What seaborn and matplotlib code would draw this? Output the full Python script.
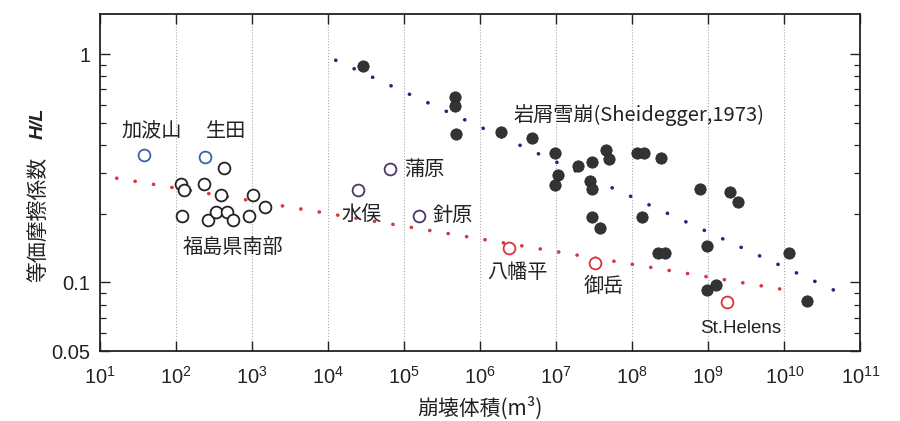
import numpy as np
import pandas as pd
import matplotlib
matplotlib.use('Agg')
import matplotlib.pyplot as plt
import seaborn as sns
from matplotlib.ticker import LogLocator, FixedLocator, FixedFormatter, NullFormatter

# Rock avalanches (Scheidegger, 1973) - filled dots
rock_vol = [2.85e4, 4.69e5, 4.69e5, 4.83e5, 1.89e6, 4.79e6, 9.7e6, 1.05e7, 9.7e6,
            1.92e7, 2.94e7, 2.8e7, 2.94e7, 2.94e7, 3.79e7, 4.55e7, 4.88e7,
            1.15e8, 1.41e8, 2.38e8, 1.34e8, 2.15e8, 2.72e8, 7.7e8, 1.95e9, 2.43e9,
            9.6e8, 9.6e8, 1.26e9, 1.16e10, 1.99e10]
rock_hl = [0.889, 0.648, 0.590, 0.446, 0.457, 0.427, 0.367, 0.295, 0.266,
           0.325, 0.338, 0.277, 0.256, 0.193, 0.173, 0.379, 0.347,
           0.369, 0.369, 0.349, 0.193, 0.134, 0.134, 0.257, 0.248, 0.226,
           0.144, 0.0923, 0.0977, 0.135, 0.0826]

# Southern Fukushima - black open circles
fuku_vol = [116, 128, 236, 428, 391, 1040, 1483, 121, 261, 332, 464, 567, 922]
fuku_hl = [0.271, 0.253, 0.270, 0.317, 0.242, 0.242, 0.214, 0.195, 0.187, 0.204, 0.204, 0.187, 0.195]

# blue open circles
blue_vol = [38, 238]
blue_hl = [0.361, 0.354]

# purple open circles
purple_vol = [6.54e4, 2.5e4, 1.57e5]
purple_hl = [0.315, 0.253, 0.195]

# red open circles (volcanic)
red_vol = [2.41e6, 3.26e7, 1.74e9]
red_hl = [0.142, 0.122, 0.082]

# trend lines (end points)
blue_line_x = [1.26e4, 4.8e10]
blue_line_y = [0.94, 0.0915]
red_line_x = [16.6, 9.4e9]
red_line_y = [0.286, 0.0932]

# labels
label_text = ['加波山', '生田', '福島県南部', '蒲原', '水俣', '針原', '八幡平', '御岳']
label_x = [48.3, 455, 562, 1.0e5, 2.8e4, 4.4e5, 3.07e6, 4.28e7]
label_y = [0.457, 0.457, 0.142, 0.311, 0.198, 0.196, 0.111, 0.0957]
label_ha = ['center', 'center', 'center', 'left', 'center', 'center', 'center', 'center']

xtick_vals = [10.0 ** k for k in range(1, 12)]
ytick_vals = [0.05, 0.1, 1]
ytick_labels = ['0.05', '0.1', '1']

sns.set_style('ticks')
plt.rcParams['font.family'] = ['Noto Sans CJK JP', 'DejaVu Sans']
plt.rcParams['mathtext.fontset'] = 'custom'
plt.rcParams['mathtext.rm'] = 'Liberation Sans'

fig = plt.figure(figsize=(9, 4.21), dpi=100)
ax = fig.add_axes([0.111, 0.166, 0.845, 0.801])
ax.set_xscale('log')
ax.set_yscale('log')

# trend lines as sparse dots
sns.lineplot(x=red_line_x, y=red_line_y, ax=ax, color='#d9363e', linewidth=2.6,
             linestyle=(0, (0.05, 5.12)), dash_capstyle='round', zorder=1)
sns.lineplot(x=blue_line_x, y=blue_line_y, ax=ax, color='#1c2a78', linewidth=2.6,
             linestyle=(0, (0.05, 5.57)), dash_capstyle='round', zorder=1)

rock = pd.DataFrame({'vol': rock_vol, 'hl': rock_hl})
sns.scatterplot(data=rock, x='vol', y='hl', ax=ax, s=66, color='#333333',
                edgecolor='#2a2a2a', linewidth=0.6, zorder=3)

groups = [(fuku_vol, fuku_hl, '#222222'), (blue_vol, blue_hl, '#3a62a8'),
          (purple_vol, purple_hl, '#4e3566'), (red_vol, red_hl, '#d8343a')]
for gx, gy, col in groups:
    sns.scatterplot(x=gx, y=gy, ax=ax, s=72, facecolor='white', edgecolor=col,
                    linewidth=1.3, zorder=3)

for t, lx, ly, ha in zip(label_text, label_x, label_y, label_ha):
    ax.text(lx, ly, t, ha=ha, va='center', fontsize=14.5, color='#222222')
ax.text(1.22e8, 0.542, '岩屑雪崩(Sheidegger,1973)', ha='center', va='center',
        fontsize=14.5, color='#222222')
ax.text(2.64e9, 0.0627, 'St.Helens', ha='center', va='center', fontsize=13.5,
        color='#222222', family='Liberation Sans')

ax.set_xlim(10, 1e11)
ax.set_ylim(0.05, 1.5)

ax.xaxis.set_major_locator(FixedLocator(xtick_vals))
ax.xaxis.set_minor_locator(FixedLocator([]))
ax.yaxis.set_major_locator(FixedLocator(ytick_vals))
ax.yaxis.set_major_formatter(FixedFormatter(ytick_labels))
ax.yaxis.set_minor_locator(LogLocator(base=10, subs=np.arange(2, 10)))
ax.yaxis.set_minor_formatter(NullFormatter())

ax.tick_params(which='both', direction='in', top=True, right=True, colors='#222222')
ax.tick_params(which='major', length=7, width=1.0, labelsize=14.5)
ax.tick_params(axis='x', which='major', pad=11)
ax.tick_params(axis='y', which='major', pad=7)
ax.tick_params(which='minor', length=4, width=0.9)
for lab in ax.get_xticklabels() + ax.get_yticklabels():
    lab.set_family('Liberation Sans')

for sp in ax.spines.values():
    sp.set_linewidth(1.3)
    sp.set_color('#222222')

for xv in xtick_vals[1:-1]:
    ax.axvline(xv, color='#aaaaaa', linestyle=':', linewidth=0.8, zorder=0)

ax.set_xlabel('崩壊体積(m³)', fontsize=15, color='#222222', labelpad=6)
ax.set_ylabel('')
fig.text(0.042, 0.478, '等価摩擦係数', rotation=90, ha='center', va='center',
         fontsize=15, color='#222222')
fig.text(0.042, 0.708, 'H/L', rotation=90, ha='center', va='center', fontsize=14,
         fontstyle='italic', fontweight='bold', color='#222222', family='Liberation Sans')

fig.savefig('out.png', dpi=100)
